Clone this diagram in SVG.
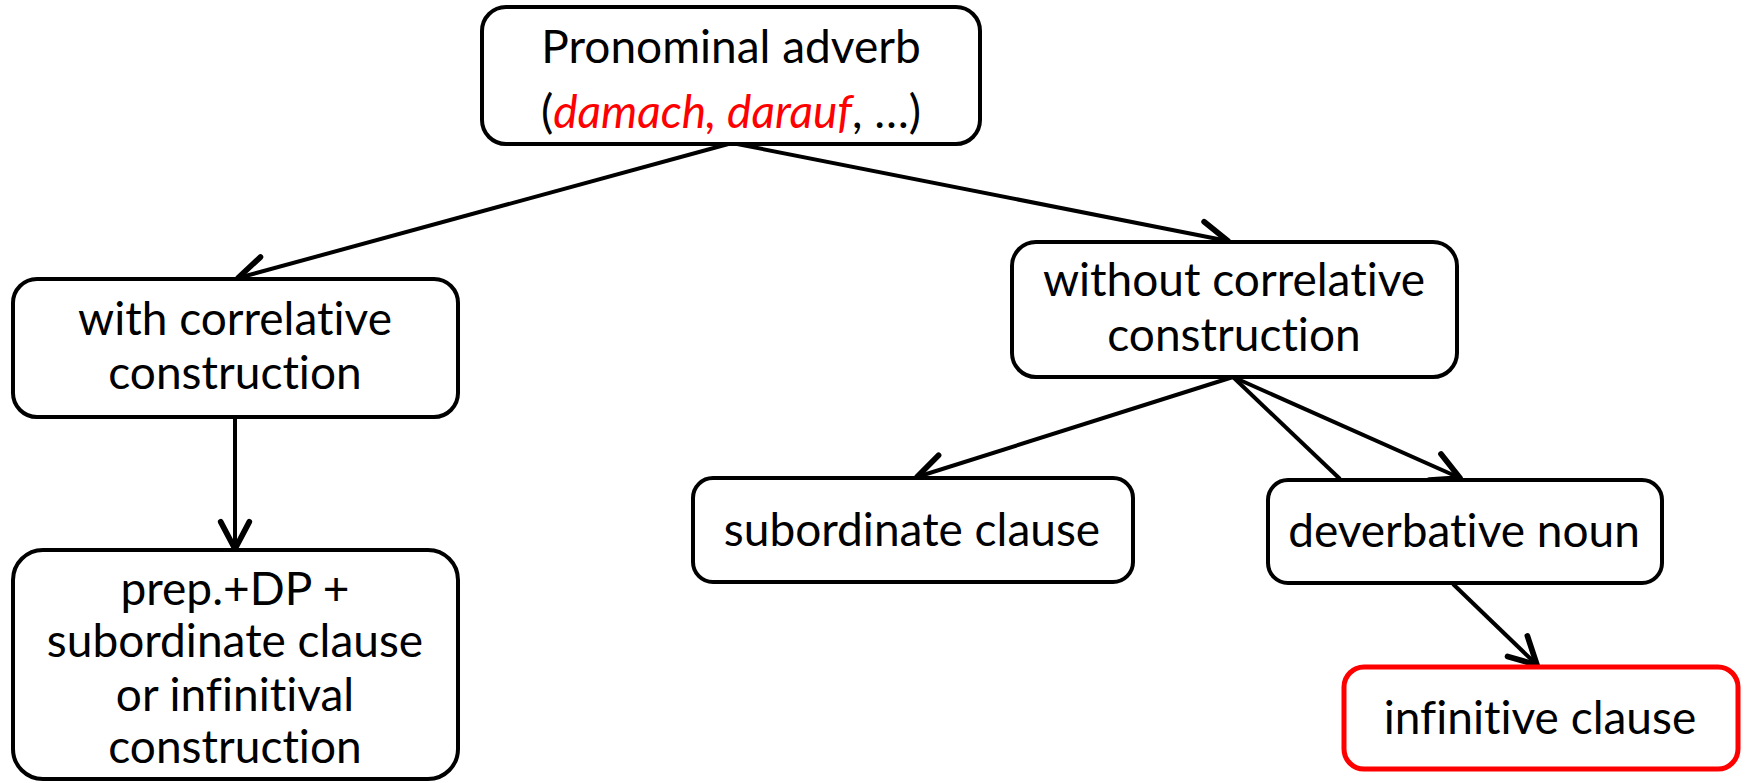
<svg xmlns="http://www.w3.org/2000/svg" width="1747" height="783" viewBox="0 0 1747 783">
  <style>
    .box { fill: #ffffff; stroke: #000000; stroke-width: 4; }
    .box-red { fill: #ffffff; stroke: #ff0000; stroke-width: 5; }
    .lbl { font-family: Lato, "Liberation Sans", sans-serif; font-size: 46px; fill: #000000; text-anchor: middle; font-variant-ligatures: none; font-feature-settings: "liga" 0; }
    .ex { fill: #ff0000; font-style: italic; }
    .edge { fill: none; stroke: #000000; stroke-width: 4; }
  </style>
  <defs>
    <marker id="head" markerUnits="userSpaceOnUse" markerWidth="40" markerHeight="40" viewBox="-24 -14 28 28" refX="0" refY="0" orient="auto">
      <path d="M-19,-10 L0,0 L-19,10" fill="none" stroke="#000000" stroke-width="4" stroke-linecap="round" stroke-linejoin="round"/>
    </marker>
  </defs>
  <rect width="1747" height="783" fill="#ffffff"/>

  <!-- connectors -->
  <g id="connectors">
    <line class="edge" x1="732" y1="143" x2="238" y2="278" marker-end="url(#head)"/>
    <line class="edge" x1="732" y1="143" x2="1228" y2="241" marker-end="url(#head)"/>
    <line class="edge" x1="235" y1="415" x2="235" y2="549" marker-end="url(#head)"/>
    <line class="edge" x1="1233" y1="377" x2="917" y2="477" marker-end="url(#head)"/>
    <line class="edge" x1="1233" y1="377" x2="1460" y2="478" marker-end="url(#head)"/>
    <line class="edge" x1="1233" y1="377" x2="1340" y2="479"/>
    <line class="edge" x1="1453" y1="584" x2="1537" y2="665" marker-end="url(#head)"/>
  </g>

  <!-- root -->
  <g id="node-pronominal-adverb">
    <rect class="box" x="482" y="7" width="498" height="137" rx="24"/>
    <text class="lbl" x="731" y="63">Pronominal adverb</text>
    <text class="lbl" x="731" y="128">(<tspan class="ex">damach, darauf</tspan>, …)</text>
  </g>

  <g id="node-with-correlative">
    <rect class="box" x="13" y="279" width="445" height="138" rx="24"/>
    <text class="lbl" x="235" y="335">with correlative</text>
    <text class="lbl" x="235" y="389">construction</text>
  </g>

  <g id="node-prep-dp">
    <rect class="box" x="13" y="550" width="445" height="229" rx="30"/>
    <text class="lbl" x="235" y="605">prep.+DP +</text>
    <text class="lbl" x="235" y="657">subordinate clause</text>
    <text class="lbl" x="235" y="711">or infinitival</text>
    <text class="lbl" x="235" y="763">construction</text>
  </g>

  <g id="node-without-correlative">
    <rect class="box" x="1012" y="242" width="445" height="135" rx="24"/>
    <text class="lbl" x="1234" y="296">without correlative</text>
    <text class="lbl" x="1234" y="351">construction</text>
  </g>

  <g id="node-subordinate-clause">
    <rect class="box" x="693" y="478" width="440" height="104" rx="20"/>
    <text class="lbl" x="912" y="546">subordinate clause</text>
  </g>

  <g id="node-deverbative-noun">
    <rect class="box" x="1268" y="480" width="394" height="103" rx="20"/>
    <text class="lbl" x="1464" y="547">deverbative noun</text>
  </g>

  <g id="node-infinitive-clause">
    <rect class="box-red" x="1344" y="667" width="394" height="102" rx="20"/>
    <text class="lbl" x="1540" y="734">infinitive clause</text>
  </g>
</svg>
